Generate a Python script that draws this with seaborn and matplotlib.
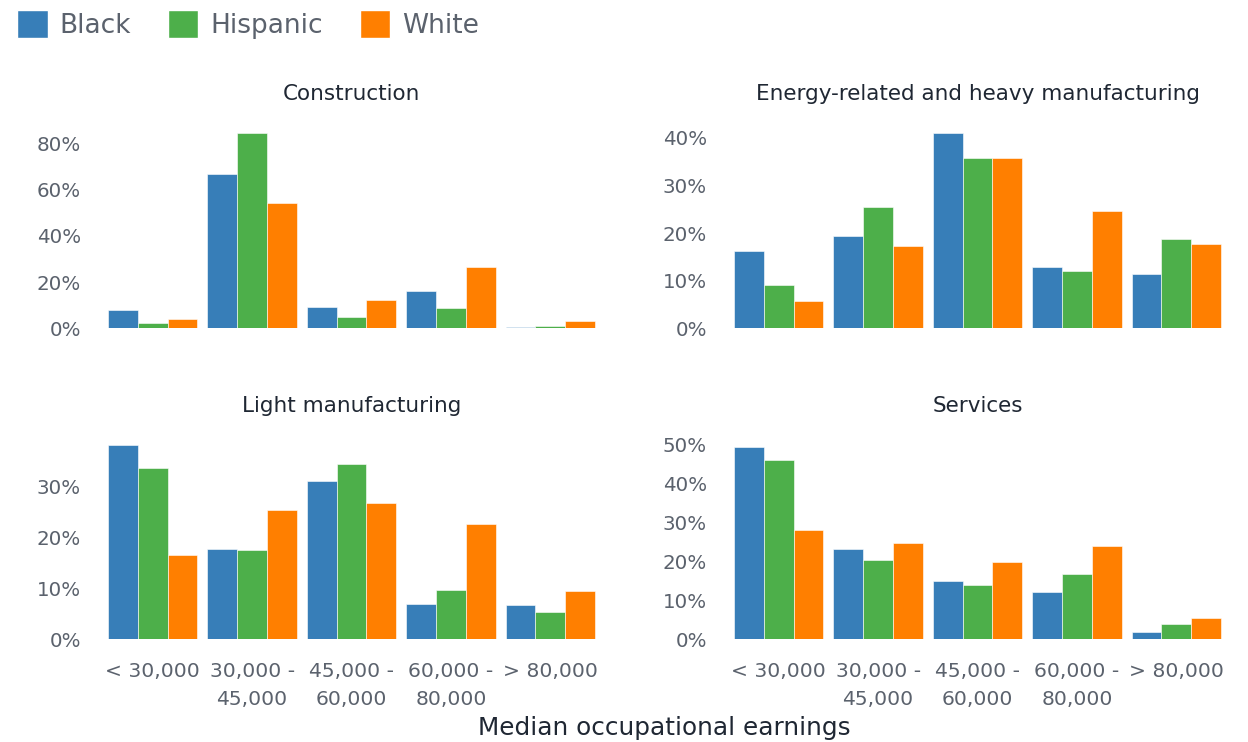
import pandas as pd
import matplotlib.pyplot as plt
import numpy as np
import seaborn as sns

# Share of workers by median occupational earnings (%)
earnings = ["< 30,000", "30,000 -\n45,000", "45,000 -\n60,000", "60,000 -\n80,000", "> 80,000"]
groups = ["Black", "Hispanic", "White"]
sectors = ["Construction", "Energy-related and heavy manufacturing", "Light manufacturing", "Services"]

construction_black = [7.9, 66.5, 9.4, 16.0, 0.4]
construction_hispanic = [2.2, 84.4, 4.8, 8.8, 0.9]
construction_white = [4.0, 54.1, 12.4, 26.5, 3.3]

energy_black = [16.3, 19.4, 41.0, 12.9, 11.4]
energy_hispanic = [9.0, 25.5, 35.7, 12.0, 18.8]
energy_white = [5.8, 17.2, 35.7, 24.6, 17.7]

light_black = [38.2, 17.7, 31.1, 6.9, 6.7]
light_hispanic = [33.6, 17.5, 34.4, 9.7, 5.4]
light_white = [16.6, 25.5, 26.7, 22.7, 9.4]

services_black = [49.4, 23.2, 14.9, 12.3, 1.9]
services_hispanic = [46.2, 20.4, 14.1, 16.8, 3.9]
services_white = [28.0, 24.9, 19.8, 23.9, 5.4]

yticks = [[0, 20, 40, 60, 80], [0, 10, 20, 30, 40], [0, 10, 20, 30], [0, 10, 20, 30, 40, 50]]

colors = ["#377eb8", "#4daf4a", "#ff7f00"]
gray = "#5b626d"
dark = "#1f2733"

series = {
    "Construction": [construction_black, construction_hispanic, construction_white],
    "Energy-related and heavy manufacturing": [energy_black, energy_hispanic, energy_white],
    "Light manufacturing": [light_black, light_hispanic, light_white],
    "Services": [services_black, services_hispanic, services_white],
}

rows = []
for s in sectors:
    for g, vals in zip(groups, series[s]):
        for e, v in zip(earnings, vals):
            rows.append({"sector": s, "group": g, "earnings": e, "share": v})
df = pd.DataFrame(rows)

sns.set_style("white")
plt.rcParams['font.family'] = ['DejaVu Sans']

fig = plt.figure(figsize=(12.48, 7.42), dpi=100)
W, H = 1248, 742
# axes boxes in pixels: left, right, top, bottom
boxes = [(103, 600, 133, 328.3), (729, 1226, 133, 328.3),
         (103, 600, 445, 639.3), (729, 1226, 445, 639.3)]

for i, s in enumerate(sectors):
    l, r, t, b = boxes[i]
    ax = fig.add_axes([l / W, (H - b) / H, (r - l) / W, (b - t) / H])
    sub = df[df["sector"] == s]
    sns.barplot(data=sub, x="earnings", y="share", hue="group", order=earnings,
                hue_order=groups, palette=colors, saturation=1, width=0.9, gap=0,
                edgecolor="white", linewidth=0.4, ax=ax, legend=False)
    ax.set_xlim(-0.5, 4.5)
    ax.set_ylim(0, sub["share"].max())
    ax.set_yticks(yticks[i])
    ax.set_yticklabels([f"{v}%" for v in yticks[i]])
    ax.tick_params(axis="y", length=0, pad=16, labelsize=14.3, labelcolor=gray)
    if i >= 2:
        ax.tick_params(axis="x", length=0, pad=16, labelsize=14.6, labelcolor=gray)
        for lab in ax.get_xticklabels():
            lab.set_linespacing(1.6)
    else:
        ax.set_xticklabels([])
        ax.tick_params(axis="x", length=0)
    ax.set_xlabel("")
    ax.set_ylabel("")
    ax.set_title(s, fontsize=15.5, color=dark, pad=24)
    sns.despine(ax=ax, left=True, bottom=True)

handles = [plt.Rectangle((0, 0), 1, 1, facecolor=c, edgecolor="white") for c in colors]
fig.legend(handles, groups, loc="upper left", bbox_to_anchor=(0.0, 1.009), ncol=3,
           frameon=False, fontsize=19, labelcolor=gray, handlelength=1.15, handleheight=1.25,
           handletextpad=0.45, columnspacing=1.4, borderaxespad=0.25)

fig.text((103 + 1226) / 2 / W, (H - 728) / H, "Median occupational earnings",
         ha="center", va="center", fontsize=17.8, color=dark)

fig.savefig("out.png", dpi=100)
